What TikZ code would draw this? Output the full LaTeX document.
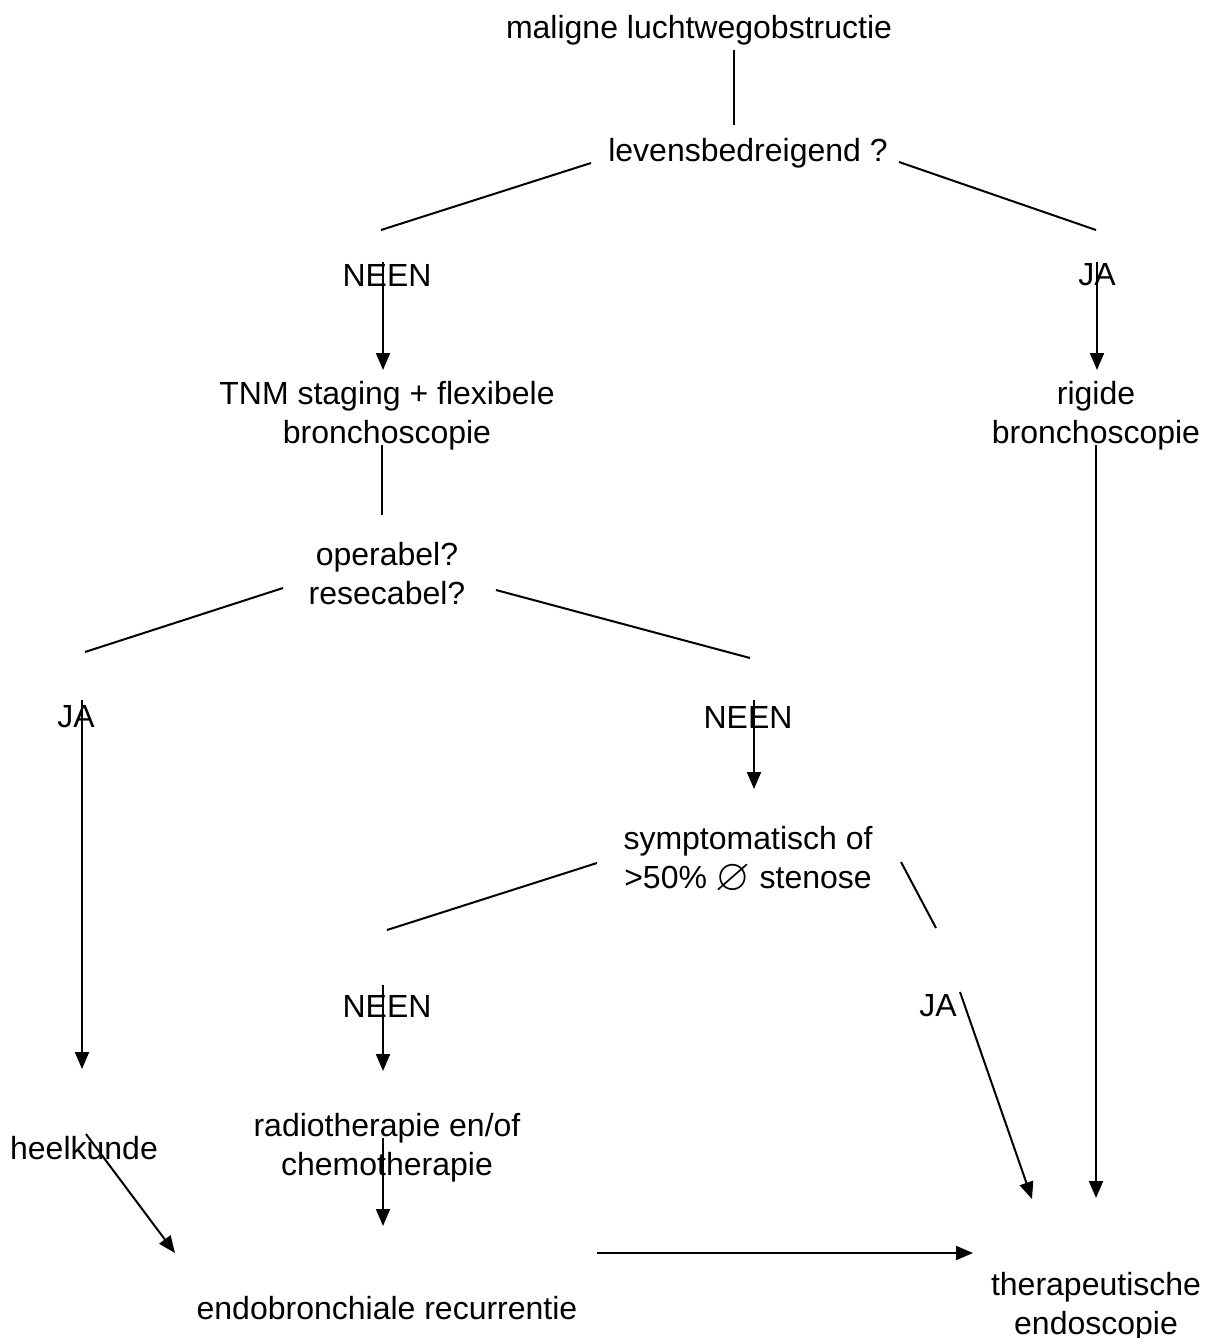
\documentclass[tikz,border=0pt]{standalone}
\usepackage{amssymb}
\usepackage{fontspec}
\setmainfont{Liberation Sans}
\usetikzlibrary{arrows.meta}
\begin{document}
\begin{tikzpicture}[x=0.5pt,y=-0.5pt,
  txt/.style={inner sep=0pt,align=center,font=\fontsize{16}{19.5}\selectfont},
  ln/.style={line width=1pt},
  arr/.style={line width=1pt,-{Triangle[length=8.5pt,width=7pt]}}]
\useasboundingbox (0,0) rectangle (1212,1338);
% nodes
\node[txt] (mal) at (699,30) {maligne luchtwegobstructie};
\node[txt] (lev) at (748,153) {levensbedreigend ?};
\node[txt] (neen1) at (387,275) {NEEN};
\node[txt] (ja1) at (1097,275) {JA};
\node[txt] (tnm) at (387,416) {TNM staging + flexibele\\bronchoscopie};
\node[txt] (rig) at (1096,416) {rigide\\bronchoscopie};
\node[txt] (ope) at (387,574) {operabel?\\resecabel?};
\node[txt] (ja2) at (76,717) {JA};
\node[txt] (neen2) at (748,717) {NEEN};
\node[txt] (sym) at (748,860) {symptomatisch of\\>50\% \raisebox{-1.2pt}{\scalebox{1.4}{$\varnothing$}} stenose};
\node[txt] (neen3) at (387,1006) {NEEN};
\node[txt] (ja3) at (938,1006) {JA};
\node[txt] (hee) at (84,1148) {heelkunde};
\node[txt] (rad) at (387,1148) {radiotherapie en/of\\chemotherapie};
\node[txt] (endo) at (387,1308) {endobronchiale recurrentie};
\node[txt] (ther) at (1096,1307) {therapeutische\\endoscopie};
% connector endpoints
\coordinate (c1a) at (734,50);   \coordinate (c1b) at (734,125);
\coordinate (c2a) at (591,163);  \coordinate (c2b) at (381,230);
\coordinate (c3a) at (899,162);  \coordinate (c3b) at (1096,230);
\coordinate (c4a) at (383,262);  \coordinate (c4b) at (383,370);
\coordinate (c5a) at (1097,262); \coordinate (c5b) at (1097,370);
\coordinate (c6a) at (382,445);  \coordinate (c6b) at (382,515);
\coordinate (c7a) at (283,588);  \coordinate (c7b) at (85,652);
\coordinate (c8a) at (496,590);  \coordinate (c8b) at (750,658);
\coordinate (c9a) at (82,700);   \coordinate (c9b) at (82,1069);
\coordinate (c10a) at (754,700); \coordinate (c10b) at (754,789);
\coordinate (c11a) at (597,863); \coordinate (c11b) at (387,930);
\coordinate (c12a) at (901,862); \coordinate (c12b) at (936,928);
\coordinate (c13a) at (383,985); \coordinate (c13b) at (383,1071);
\coordinate (c14a) at (960,992); \coordinate (c14b) at (1032,1199);
\coordinate (c15a) at (86,1134); \coordinate (c15b) at (175,1253);
\coordinate (c16a) at (383,1138);\coordinate (c16b) at (383,1226);
\coordinate (c17a) at (597,1253);\coordinate (c17b) at (973,1253);
\coordinate (c18a) at (1096,445);\coordinate (c18b) at (1096,1198);
% connectors
\draw[ln] (c1a) -- (c1b);
\draw[ln] (c2a) -- (c2b);
\draw[ln] (c3a) -- (c3b);
\draw[arr] (c4a) -- (c4b);
\draw[arr] (c5a) -- (c5b);
\draw[ln] (c6a) -- (c6b);
\draw[ln] (c7a) -- (c7b);
\draw[ln] (c8a) -- (c8b);
\draw[arr] (c9a) -- (c9b);
\draw[arr] (c10a) -- (c10b);
\draw[ln] (c11a) -- (c11b);
\draw[ln] (c12a) -- (c12b);
\draw[arr] (c13a) -- (c13b);
\draw[arr] (c14a) -- (c14b);
\draw[arr] (c15a) -- (c15b);
\draw[arr] (c16a) -- (c16b);
\draw[arr] (c17a) -- (c17b);
\draw[arr] (c18a) -- (c18b);
\end{tikzpicture}
\end{document}
